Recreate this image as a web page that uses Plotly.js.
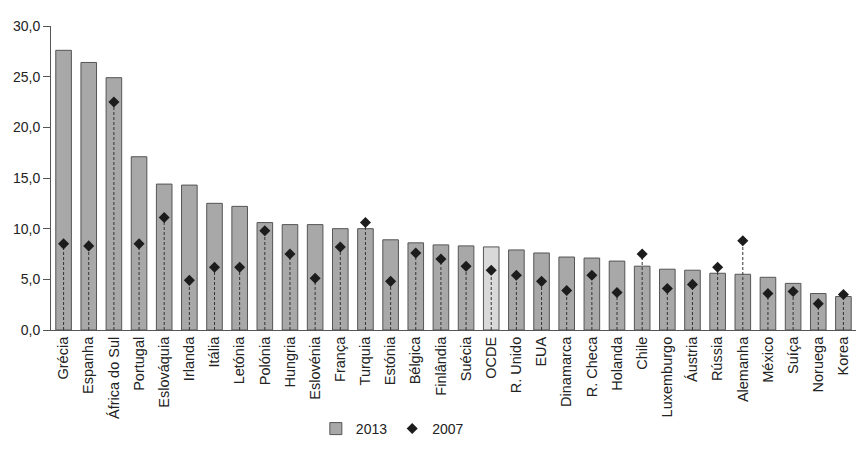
<!DOCTYPE html>
<html>
<head>
<meta charset="utf-8">
<script src="https://cdn.plot.ly/plotly-3.0.1.min.js"></script>
<style>html,body{margin:0;padding:0;background:#fff;}#chart{width:864px;height:466px;}</style>
</head>
<body>
<div id="chart"></div>
<script>
const countries = ["Grécia","Espanha","África do Sul","Portugal","Eslováquia","Irlanda","Itália","Letónia","Polónia","Hungria","Eslovénia","França","Turquia","Estónia","Bélgica","Finlândia","Suécia","OCDE","R. Unido","EUA","Dinamarca","R. Checa","Holanda","Chile","Luxemburgo","Áustria","Rússia","Alemanha","México","Suíça","Noruega","Korea"];
const values2013 = [27.6,26.4,24.9,17.1,14.4,14.3,12.5,12.2,10.6,10.4,10.4,10.0,10.0,8.9,8.6,8.4,8.3,8.2,7.9,7.6,7.2,7.1,6.8,6.3,6.0,5.9,5.6,5.5,5.2,4.6,3.6,3.3];
const values2007 = [8.5,8.3,22.5,8.5,11.1,4.9,6.2,6.2,9.8,7.5,5.1,8.2,10.6,4.8,7.6,7.0,6.3,5.9,5.4,4.8,3.9,5.4,3.7,7.5,4.1,4.5,6.2,8.8,3.6,3.8,2.6,3.5];
const highlight = "OCDE";

const barColors = countries.map(c => c === highlight ? "#d9d9d9" : "#a8a8a8");

// dashed stems from 0 to the 2007 value
const stemX = [], stemY = [];
countries.forEach((c, i) => { stemX.push(c, c, null); stemY.push(0, values2007[i], null); });

const traces = [
  {type: "bar", x: countries, y: values2013, name: "2013",
   marker: {color: barColors, line: {color: "#555", width: 1}}},
  {type: "scatter", mode: "lines", x: stemX, y: stemY, showlegend: false, hoverinfo: "skip",
   line: {color: "#333", width: 1, dash: "3px,2px"}},
  {type: "scatter", mode: "markers", x: countries, y: values2007, name: "2007",
   marker: {symbol: "diamond", size: 8.5, color: "#1c1c1c"}}
];

const layout = {
  width: 864, height: 466,
  margin: {l: 51, r: 8, t: 26, b: 136},
  paper_bgcolor: "#fff", plot_bgcolor: "#fff",
  font: {family: "Arial, Liberation Sans, sans-serif", size: 14, color: "#222"},
  separators: ",.",
  bargap: 0.38,
  showlegend: true,
  legend: {orientation: "h", x: 0.329, xanchor: "left", y: -0.273, yanchor: "top",
           font: {size: 14, color: "#222"}, itemwidth: 30, traceorder: "normal"},
  xaxis: {type: "category", range: [-0.5, 31.5], tickangle: -90, showline: true,
          linecolor: "#555", linewidth: 1, ticks: "", showgrid: false, zeroline: false,
          tickfont: {size: 14.5, color: "#222"}},
  yaxis: {range: [0, 30], dtick: 5, tickformat: ".1f", showline: true, linecolor: "#555",
          linewidth: 1, ticks: "outside", ticklen: 7, tickcolor: "#555", showgrid: false,
          zeroline: false, tickfont: {size: 14, color: "#222"}}
};

Plotly.newPlot("chart", traces, layout, {displayModeBar: false, staticPlot: true});
</script>
</body>
</html>
